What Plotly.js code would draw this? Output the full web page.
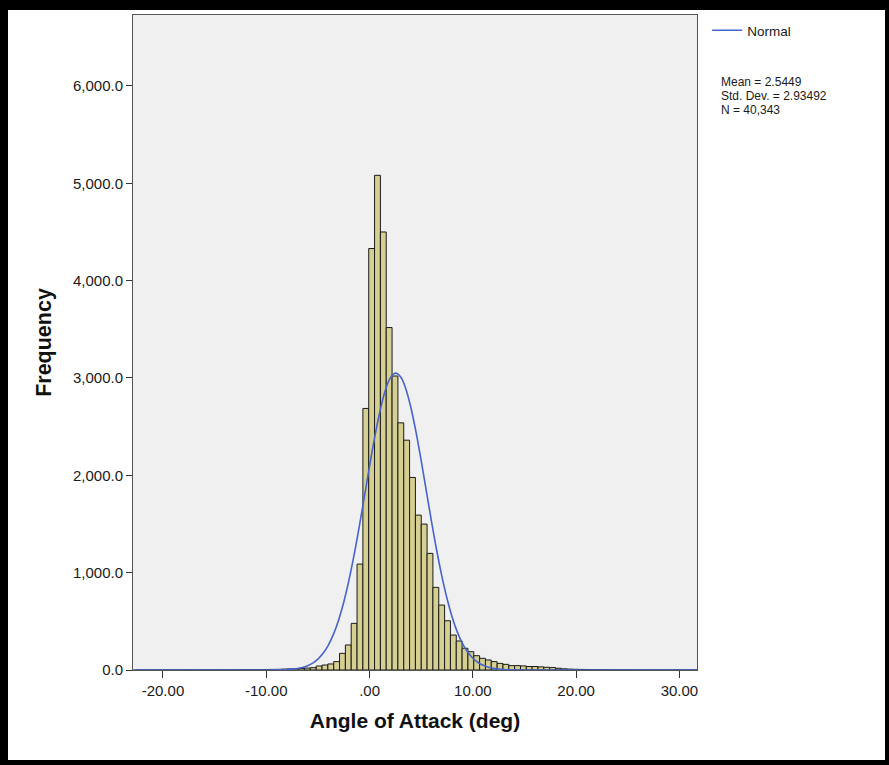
<!DOCTYPE html>
<html>
<head>
<meta charset="utf-8">
<script src="https://cdn.plot.ly/plotly-3.0.1.min.js"></script>
<style>
  html, body { margin: 0; padding: 0; background: #ffffff; }
  #frame { position: absolute; left: 0; top: 0; width: 889px; height: 765px; background: #000000; }
  #chart { position: absolute; left: 8px; top: 10px; width: 877px; height: 750px; background: #ffffff; }
</style>
</head>
<body>
<div id="frame"><div id="chart"></div></div>
<script>
// ---- Data ----
const binWidth = 0.565;           // width of each histogram bin (deg)
const firstBinCenter = -22.3975;  // centre of the first bin (deg)
const binCounts = [
  1,0,0,1,0,1,0,0,1,1,0,1,1,1,2,1,2,2,3,3,
  3,4,5,6,7,9,11,13,16,
  20,24,41,51,62,86,171,257,479,1088,2687,
  4330,5082,4500,3518,3020,2539,2361,1978,1591,1499,1198,849,
  667,506,359,298,223,188,147,120,103,86,68,58,45,45,42,36,36,
  32,28,25,18,12,9,7,6,5,4,3,3,2,2,1,1,1,0,1,0,1,0,0,1,0,0,1,0
];

// Normal curve
const normalX = [-22.9,-15,-10,-9,-8,-7.5,-7,-6.5,-6,-5.5,-5,-4.5,-4,-3.5,-3,-2.5,-2,-1.5,-1,-0.5,
  0,0.5,1,1.5,2,2.5,3,3.5,4,4.5,5,5.5,6,6.5,7,7.5,8,8.5,9,9.5,10,10.5,11,11.5,12,13,14,15,20,31.7];
const normalY = [0,0,0.3,1.3,5,9,15,26,44,71,112,171,254,366,512,696,920,1180,1471,1781,
  2094,2393,2655,2863,2998,3050,3013,2893,2697,2443,2150,1837,1525,1230,964,734,542,389,272,184,121,77,48,29,17,5,1.5,0.4,0,0];

const xTickVals = [-20, -10, 0, 10, 20, 30];
const xTickText = ['-20.00', '-10.00', '.00', '10.00', '20.00', '30.00'];
const yTickVals = [0, 1000, 2000, 3000, 4000, 5000, 6000];
const yTickText = ['0.0', '1,000.0', '2,000.0', '3,000.0', '4,000.0', '5,000.0', '6,000.0'];

const statsLines = ['Mean = 2.5449', 'Std. Dev. = 2.93492', 'N = 40,343'];

// ---- Plot ----
const FONT = 'Liberation Sans, Arial, sans-serif';

const bars = {
  type: 'bar',
  x0: firstBinCenter,
  dx: binWidth,
  y: binCounts,
  width: binWidth,
  marker: { color: '#d5cf92', line: { color: '#1a1a1a', width: 1 } },
  showlegend: false,
  hoverinfo: 'skip'
};

const normal = {
  type: 'scatter',
  mode: 'lines',
  x: normalX,
  y: normalY,
  name: 'Normal',
  line: { color: '#4763cc', width: 1.6, shape: 'spline', smoothing: 1 },
  hoverinfo: 'skip'
};

// stats block: one annotation per line
const statsTop = 0.898, statsStep = 0.0214;
const statsAnnotations = statsLines.map((t, i) => ({
  xref: 'paper', yref: 'paper',
  x: 1.0408, y: statsTop - i * statsStep,
  xanchor: 'left', yanchor: 'middle',
  align: 'left',
  showarrow: false,
  borderpad: 0,
  text: t,
  font: { family: FONT, size: 12, color: '#1a1a1a' }
}));

const layout = {
  width: 877,
  height: 750,
  margin: { l: 125, r: 188, t: 5, b: 90 },
  paper_bgcolor: '#ffffff',
  plot_bgcolor: '#f0f0f0',
  bargap: 0,
  font: { family: FONT, size: 12, color: '#1a1a1a' },
  xaxis: {
    range: [-22.9, 31.7],
    tickvals: xTickVals,
    ticktext: xTickText,
    ticks: 'outside',
    ticklen: 7,
    tickwidth: 1,
    tickcolor: '#333333',
    showgrid: false,
    zeroline: false,
    showline: true,
    linecolor: '#555555',
    linewidth: 1,
    mirror: true,
    tickfont: { family: FONT, size: 15, color: '#1a1a1a' },
    title: { text: '<b>Angle of Attack (deg)</b>', font: { family: FONT, size: 21, color: '#111111' }, standoff: 15 }
  },
  yaxis: {
    range: [0, 6729],
    tickvals: yTickVals,
    ticktext: yTickText,
    ticks: 'outside',
    ticklen: 6,
    tickwidth: 1,
    tickcolor: '#333333',
    showgrid: false,
    zeroline: false,
    showline: true,
    linecolor: '#555555',
    linewidth: 1,
    mirror: true,
    tickfont: { family: FONT, size: 15, color: '#1a1a1a' },
    title: { text: '<b>Frequency</b>', font: { family: FONT, size: 21.5, color: '#111111' }, standoff: 15 }
  },
  showlegend: true,
  legend: {
    x: 1.018,
    xanchor: 'left',
    y: 1.0,
    yanchor: 'top',
    bgcolor: 'rgba(0,0,0,0)',
    font: { family: FONT, size: 13.5, color: '#1a1a1a' },
    itemwidth: 30,
    tracegroupgap: 0
  },
  annotations: statsAnnotations
};

Plotly.newPlot('chart', [bars, normal], layout, { displayModeBar: false, staticPlot: true });
</script>
</body>
</html>
